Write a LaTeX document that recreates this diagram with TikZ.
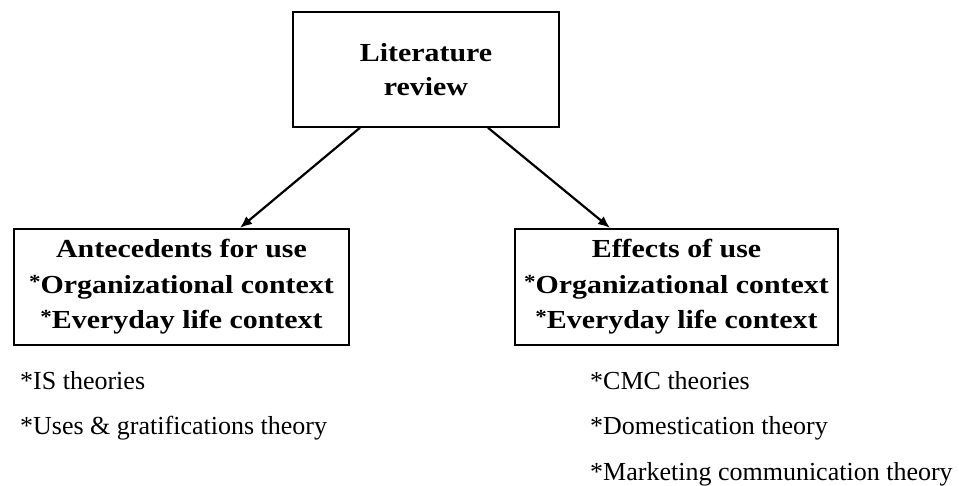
\documentclass[tikz,border=0pt]{standalone}
\usepackage{fontspec}
\setmainfont{Liberation Serif}
\newfontfamily\boxfont[FakeStretch=1.15]{Liberation Serif}
\newcommand{\bstar}{\raisebox{5pt}{\fontsize{20}{20}\selectfont*}}
\usetikzlibrary{arrows.meta,calc}
\begin{document}
\begin{tikzpicture}[x=1pt,y=-1pt,
  boxnode/.style={draw=black,line width=2.2pt,align=center,inner sep=0pt,
    font=\boxfont\bfseries\fontsize{26}{35.5}\selectfont},
  toptext/.style={draw=black,line width=1.5pt,align=center,inner sep=0pt,
    font=\boxfont\bfseries\fontsize{26}{34}\selectfont},
  arr/.style={line width=2.2pt,-{Latex[length=12pt,width=10pt]}},
  note/.style={anchor=base west,inner sep=0pt,font=\fontsize{26}{30}\selectfont}]
\useasboundingbox (0,0) rectangle (959,486);
\node[toptext,minimum width=266pt,minimum height=115pt] (top) at (426,69.5) {Literature\\review};
\node[boxnode,minimum width=335pt,minimum height=116pt] (ante) at (181.5,287) {Antecedents for use\\\bstar Organizational context\\\bstar Everyday life context};
\node[boxnode,minimum width=323pt,minimum height=116pt] (eff) at (676.5,287) {Effects of use\\\bstar Organizational context\\\bstar Everyday life context};
\draw[arr] ([xshift=-66pt]top.south) -- ([xshift=58.5pt]ante.north);
\draw[arr] ([xshift=62pt]top.south) -- ([xshift=-66.5pt]eff.north);
\node[note] (n1) at (20,390) {*IS theories};
\node[note] (n2) at (20,435) {*Uses \& gratifications theory};
\node[note] (n3) at (590,390) {*CMC theories};
\node[note] (n4) at (590,435) {*Domestication theory};
\node[note] (n5) at (590,480) {*Marketing communication theory};
\end{tikzpicture}
\end{document}
